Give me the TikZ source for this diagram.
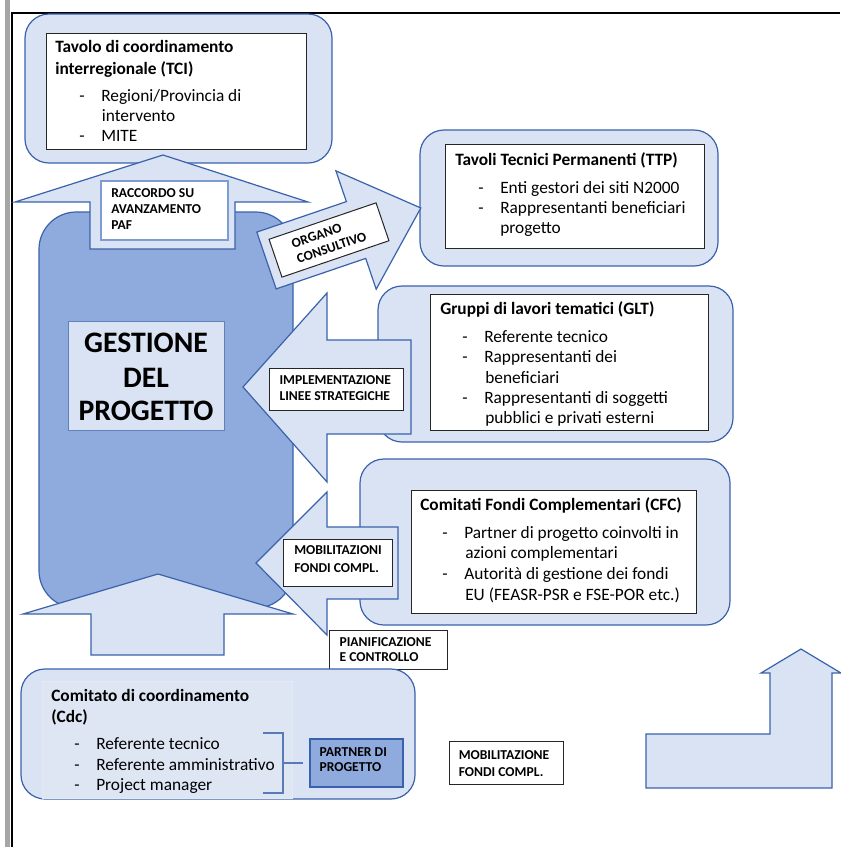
\documentclass[tikz,border=0pt]{standalone}
\usepackage{fontspec}
\setmainfont{Carlito}
\definecolor{lfill}{HTML}{DAE3F3}
\definecolor{dfill}{HTML}{8FAADC}
\definecolor{bline}{HTML}{3A62AC}
\definecolor{rline}{HTML}{7D9CD4}
\definecolor{frgray}{HTML}{A6A6A6}
\newcommand\dsh{\makebox[16.5pt][l]{-}}
\begin{document}
\begin{tikzpicture}[x=0.75pt,y=-0.75pt,
  outerbox/.style={fill=lfill,draw=bline,line width=0.9pt,rounded corners=18pt},
  innerbox/.style={fill=white,draw=black!85,line width=0.75pt},
  arrowshape/.style={fill=lfill,draw=bline,line width=0.9pt,line join=miter},
  lblbox/.style={fill=white,draw=black!85,line width=0.75pt},
  body/.style={anchor=base west,inner sep=0pt,font=\fontsize{13}{15}\selectfont},
  ttl/.style={anchor=base west,inner sep=0pt,font=\bfseries\fontsize{13}{15}\selectfont},
  lbl/.style={anchor=base west,inner sep=0pt,font=\bfseries\fontsize{10.2}{12}\selectfont},
  big/.style={anchor=base,inner sep=0pt,font=\bfseries\fontsize{22.3}{27}\selectfont},
]
\useasboundingbox (0,0) rectangle (840,847);
\fill[white] (0,0) rectangle (840,847);
% frame
\fill[frgray] (5,0) rectangle (9.5,847);
\draw[line width=1.5pt] (11.5,847) -- (11.5,13) -- (840,13);

% TCI
\draw[outerbox] (25,14) rectangle (332,163);
\draw[innerbox] (46,33) rectangle (306,149);
\node[ttl] (tcia) at (55,52.5) {Tavolo di coordinamento};
\node[ttl] (tcib) at (55,74.5) {interregionale (TCI)};
\node[body] (tcic) at (79,101.5) {\dsh Regioni/Provincia di};
\node[body] (tcid) at (101.7,121) {intervento};
\node[body] (tcie) at (79,141.5) {\dsh MITE};

% Gestione
\draw[fill=dfill,draw=bline,line width=0.9pt,rounded corners=28pt] (39,212) rectangle (293,608);
\draw[fill=lfill,draw=bline!80,line width=0.75pt] (68,321) rectangle (224,430);
\node[big] (gesa) at (146,352) {GESTIONE};
\node[big] (gesb) at (146,387.7) {DEL};
\node[big] (gesc) at (146,420.4) {PROGETTO};

% Raccordo arrow
\draw[arrowshape] (163,155) -- (308,202) -- (235,202) -- (235,249) -- (90,249) -- (90,202) -- (15,202) -- cycle;
\draw[fill=white,draw=rline,line width=0.9pt] (101,181) rectangle (228,240);
\node[lbl] (raca) at (111,197.7) {RACCORDO SU};
\node[lbl] (racb) at (111,213.7) {AVANZAMENTO};
\node[lbl] (racc) at (111,229.4) {PAF};

% bottom up arrow
\draw[arrowshape] (158,574) -- (293,614) -- (224,614) -- (224,655) -- (91,655) -- (91,614) -- (23,614) -- cycle;

% TTP
\draw[outerbox] (420,130) rectangle (718,266);
\draw[innerbox] (445,144) rectangle (704,248);
\node[ttl] (ttpa) at (455,165) {Tavoli Tecnici Permanenti (TTP)};
\node[body] (ttpb) at (478,193) {\dsh Enti gestori dei siti N2000};
\node[body] (ttpc) at (478,213) {\dsh Rappresentanti beneficiari};
\node[body] (ttpd) at (500,233) {progetto};

% Organo arrow
\begin{scope}[shift={(266.5,260.5)},rotate=18.8]
\draw[arrowshape] (0,-30) -- (94.6,-30) -- (94.6,-62.5) -- (163,0) -- (94.6,62.5) -- (94.6,30) -- (0,30) -- cycle;
\end{scope}
\node[lblbox,rotate=18.8,minimum width=84.75pt,minimum height=30pt,inner sep=0pt,align=left,
  font=\bfseries\fontsize{10.2}{12}\selectfont] (organo) at (329,240) {ORGANO\\CONSULTIVO};

% GLT
\draw[outerbox] (378,286) rectangle (733,442);
\draw[innerbox] (430,294) rectangle (708,430);
\node[ttl] (glta) at (440,314) {Gruppi di lavori tematici (GLT)};
\node[body] (gltb) at (462,342) {\dsh Referente tecnico};
\node[body] (gltc) at (462,362) {\dsh Rappresentanti dei};
\node[body] (gltd) at (485,383) {beneficiari};
\node[body] (glte) at (462,403) {\dsh Rappresentanti di soggetti};
\node[body] (gltf) at (485,423) {pubblici e privati esterni};

% Implementazione arrow
\draw[arrowshape] (243,387) -- (327,293) -- (327,340) -- (411,340) -- (411,434) -- (327,434) -- (327,482) -- cycle;
\draw[lblbox] (269,368) rectangle (403,410);
\node[lbl] (impa) at (279.3,384.4) {IMPLEMENTAZIONE};
\node[lbl] (impb) at (279.3,400.4) {LINEE STRATEGICHE};

% CFC
\draw[outerbox] (360,459) rectangle (730,625);
\draw[innerbox] (411,490) rectangle (696,613);
\node[ttl] (cfca) at (420,510) {Comitati Fondi Complementari (CFC)};
\node[body] (cfcb) at (442,538.5) {\dsh Partner di progetto coinvolti in};
\node[body] (cfcc) at (465,558.5) {azioni complementari};
\node[body] (cfcd) at (442,579) {\dsh Autorità di gestione dei fondi};
\node[body] (cfce) at (465,600) {EU (FEASR-PSR e FSE-POR etc.)};

% Mobilitazioni arrow
\draw[arrowshape] (256,563) -- (327,492) -- (327,527) -- (398,527) -- (398,599) -- (327,599) -- (327,635) -- cycle;
\draw[lblbox] (283,539) rectangle (392,586);
\node[lbl] (moba) at (294,554.4) {MOBILITAZIONI};
\node[lbl] (mobb) at (294,572.7) {FONDI COMPL.};

% Pianificazione label
\draw[lblbox] (329,630) rectangle (447,669);
\node[lbl] (piana) at (339.3,646) {PIANIFICAZIONE};
\node[lbl] (pianb) at (339.3,661) {E CONTROLLO};

% Cdc
\draw[outerbox] (21,669) rectangle (415,799);
\draw[fill=lfill!88!white,draw=lfill!75!white,line width=0.4pt] (42,681) rectangle (292,798);
\node[ttl] (cdca) at (51,701) {Comitato di coordinamento};
\node[ttl] (cdcb) at (51,722.5) {(Cdc)};
\node[body] (cdcc) at (74,749.5) {\dsh Referente tecnico};
\node[body] (cdcd) at (74,770) {\dsh Referente amministrativo};
\node[body] (cdce) at (74,790) {\dsh Project manager};
\node[draw=bline,fill=dfill,line width=0.9pt,minimum width=69.75pt,minimum height=36pt,inner sep=0pt] (partner) at (356.5,763) {};
\node[lbl] (parta) at (319.3,756) {PARTNER DI};
\node[lbl] (partb) at (319.3,771) {PROGETTO};
\coordinate (brk) at (283,763);
\draw[draw=bline!85,line width=0.9pt] (263,733) -- (283,733) -- (283,793) -- (263,793);
\draw[draw=bline!85,line width=0.9pt,shorten >=4.5pt] (brk) -- (partner.west);

% Mobilitazione standalone label
\draw[lblbox] (449,741) rectangle (563.5,784);
\node[lbl] (mza) at (458.5,759.4) {MOBILITAZIONE};
\node[lbl] (mzb) at (458.5,776) {FONDI COMPL.};

% bent up arrow
\draw[arrowshape] (646,734) -- (770,734) -- (770,673) -- (761,673) -- (801,649) -- (841,673) -- (832,673) -- (832,788) -- (646,788) -- cycle;
\end{tikzpicture}
\end{document}
